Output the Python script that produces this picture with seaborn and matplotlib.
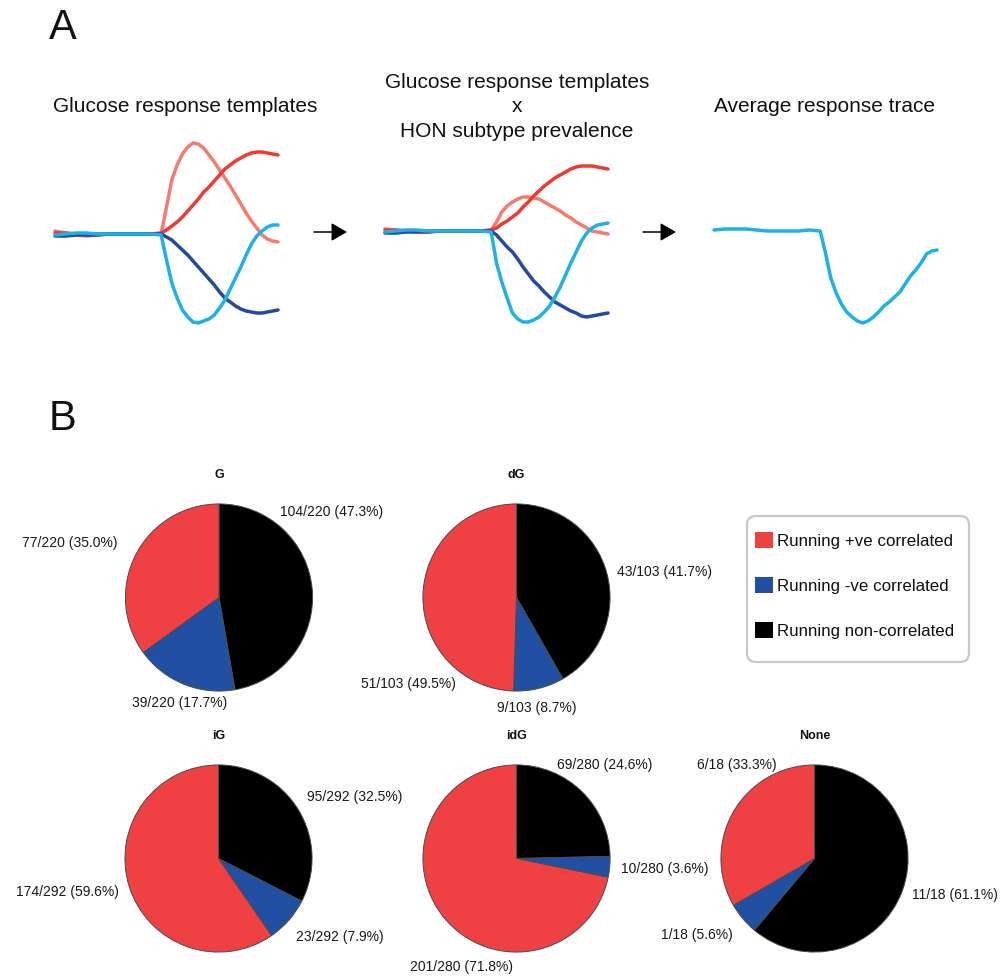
import numpy as np
import matplotlib
matplotlib.use("Agg")
import matplotlib.pyplot as plt
from matplotlib.patches import Patch, FancyArrowPatch, FancyBboxPatch
import seaborn as sns

# ---- panel A: glucose response traces (offset from baseline, up = positive) ----
time = list(range(11)) + [10.5 + 0.5 * k for k in range(22)]

tmpl_sustained_up = [1, 1, 0, 0, 0, 0, 0, 0, 0, 0, 1,
                     4, 8, 12, 17, 23, 29, 35, 42, 47, 53, 59, 65, 69, 73, 76, 79, 81, 82, 82, 81, 80, 79]
tmpl_transient_up = [3, 1, -1, -2, -1, 0, 0, 0, 0, 0, 0,
                     27, 54, 69, 80, 87, 91, 90, 86, 79, 72, 64, 56, 48, 39, 30, 21, 13, 6, -1, -5, -7, -8]
tmpl_sustained_down = [-2, -2, -1, -1, -1, 0, 0, 0, 0, 0, 0,
                       -3, -6, -11, -16, -21, -27, -33, -39, -45, -51, -58, -64, -68, -72, -75, -77, -78,
                       -79, -79, -78, -77, -76]
tmpl_transient_down = [-1, 0, 1, 1, 0, 0, 0, 0, 0, 0, -1,
                       -26, -49, -64, -76, -83, -88, -89, -87, -85, -81, -74, -66, -55, -44, -33, -21, -10,
                       -2, 3, 7, 9, 9]

prev_sustained_up = [1, 1, 0, 0, 0, 0, 0, 0, 0, 0, 1,
                     3, 7, 10, 14, 18, 24, 29, 35, 40, 45, 49, 53, 56, 59, 62, 64, 65, 65, 65, 64, 63, 62]
prev_transient_up = [2, 1, 0, -1, -1, 0, 0, 0, 0, 0, 1,
                     9, 19, 25, 29, 32, 34, 34, 33, 32, 29, 26, 23, 20, 16, 13, 9, 6, 3, 0, -1, -2, -3]
prev_sustained_down = [-2, -2, -1, -1, -1, 0, 0, 0, 0, 0, 0,
                       -4, -10, -16, -21, -28, -36, -43, -50, -55, -61, -66, -71, -74, -77, -80, -82, -85,
                       -86, -85, -84, -83, -82]
prev_transient_down = [-1, 0, 1, 1, 0, 0, 0, 0, 0, 0, -1,
                       -32, -51, -67, -82, -88, -91, -91, -89, -86, -81, -75, -66, -56, -44, -32, -21, -10,
                       -2, 3, 6, 7, 8]

average_trace = [0, 1, 1, 1, 0, -1, -1, -1, -1, 0, -1,
                 -23, -48, -63, -74, -82, -87, -91, -93, -91, -87, -82, -76, -72, -67, -62, -54, -46,
                 -40, -33, -24, -21, -20]

# ---- panel B: running correlation per HON subtype ----
groups = ["G", "dG", "iG", "idG", "None"]
pos_counts = [77, 51, 174, 201, 6]
neg_counts = [39, 9, 23, 10, 1]
non_counts = [104, 43, 95, 69, 11]
legend_labels = ["Running +ve correlated", "Running -ve correlated", "Running non-correlated"]

c_red, c_salmon, c_navy, c_cyan = "#ee3a32", "#f47b6e", "#2449a0", "#1db1e6"
pie_red, pie_blue, pie_black = "#ef4044", "#2150a3", "#000000"

sns.set_style("white")
plt.rcParams["font.family"] = ["Liberation Sans", "DejaVu Sans"]
plt.rcParams["text.color"] = "#111111"

W, H = 1002, 976
fig = plt.figure(figsize=(W / 100, H / 100), dpi=100)


def px_rect(x0, y0, x1, y1):
    return [x0 / W, 1 - y1 / H, (x1 - x0) / W, (y1 - y0) / H]


def ftext(x, y, s, **kw):
    fig.text(x / W, 1 - y / H, s, **kw)


# trace panels
panels = [
    (55, 278, 234, [(tmpl_transient_up, c_salmon), (tmpl_sustained_up, c_red),
                    (tmpl_sustained_down, c_navy), (tmpl_transient_down, c_cyan)]),
    (385, 608, 231, [(prev_transient_up, c_salmon), (prev_sustained_up, c_red),
                     (prev_sustained_down, c_navy), (prev_transient_down, c_cyan)]),
    (714, 937, 230, [(average_trace, c_cyan)]),
]
for x0, x1, base, series in panels:
    ax = fig.add_axes(px_rect(x0, 130, x1, 330))
    for vals, col in series:
        sns.lineplot(x=time, y=vals, ax=ax, color=col, linewidth=2.5)
    for ln in ax.lines:
        ln.set_clip_on(False)
        ln.set_solid_capstyle("round")
        ln.set_solid_joinstyle("round")
    ax.set_xlim(0, 21)
    ax.set_ylim(-(330 - base), base - 130)
    ax.set_axis_off()

ftext(63, 28, "A", fontsize=30, ha="center", va="center")
ftext(63, 419, "B", fontsize=30, ha="center", va="center")
ftext(185, 107, "Glucose response templates", fontsize=15, ha="center", va="center")
ftext(517, 107, "Glucose response templates\nx\nHON subtype prevalence", fontsize=15,
      ha="center", va="center", linespacing=1.36, multialignment="center")
ftext(825, 107, "Average response trace", fontsize=15, ha="center", va="center")

for xa, xb in [(314, 347), (643, 676)]:
    arr = FancyArrowPatch((xa / W, 1 - 232 / H), (xb / W, 1 - 232 / H),
                          transform=fig.transFigure, arrowstyle="-|>,head_length=0.95,head_width=0.55",
                          mutation_scale=10, color="black", linewidth=1.1, shrinkA=0, shrinkB=0)
    fig.add_artist(arr)

# pies
r = 94.5
centers = [(219, 597.5), (516.5, 597.5), (218.5, 858.5), (516.5, 858.5), (814.5, 858.5)]
# label anchors (left edge x, centre y) for [non, neg, pos]
label_pos = [
    [(280, 512), (132, 703), (22, 543)],
    [(617, 572), (497, 708), (361, 684)],
    [(307, 797), (296, 937), (16, 892)],
    [(557, 765), (621, 869), (410, 967)],
    [(912, 895), (661, 935), (697, 765)],
]
for i, g in enumerate(groups):
    cx, cy = centers[i]
    ax = fig.add_axes(px_rect(cx - r, cy - r, cx + r, cy + r))
    vals = [non_counts[i], neg_counts[i], pos_counts[i]]
    ax.pie(vals, colors=[pie_black, pie_blue, pie_red], startangle=90, counterclock=False,
           radius=1, wedgeprops=dict(edgecolor="#4a4a4a", linewidth=0.7))
    ax.set_xlim(-1.01, 1.01)
    ax.set_ylim(-1.01, 1.01)
    ftext(cx, cy - r - 28, g, fontsize=9, fontweight="bold", ha="center", va="center")
    total = sum(vals)
    for v, (lx, ly) in zip(vals, label_pos[i]):
        ftext(lx, ly, f"{v}/{total} ({100 * v / total:.1f}%)", fontsize=10, ha="left", va="center",
              color="#1a1a1a")

# legend with a hand-placed rounded frame
frame = FancyBboxPatch((747 / W, 1 - 662 / H), 222 / W, 146 / H, transform=fig.transFigure,
                       boxstyle="round,pad=0,rounding_size=0.009", facecolor="white",
                       edgecolor="#c8c8c8", linewidth=1.6)
fig.add_artist(frame)
handles = [Patch(facecolor=c, edgecolor="none") for c in (pie_red, pie_blue, pie_black)]
leg = fig.legend(handles=handles, labels=legend_labels, loc="upper left",
                 bbox_to_anchor=(755 / W, 1 - 532 / H), bbox_transform=fig.transFigure,
                 borderaxespad=0, borderpad=0, fontsize=12.2, handlelength=1.05, handleheight=1.05,
                 handletextpad=0.25, labelspacing=1.68, frameon=False)

fig.savefig("out.png", dpi=100)
